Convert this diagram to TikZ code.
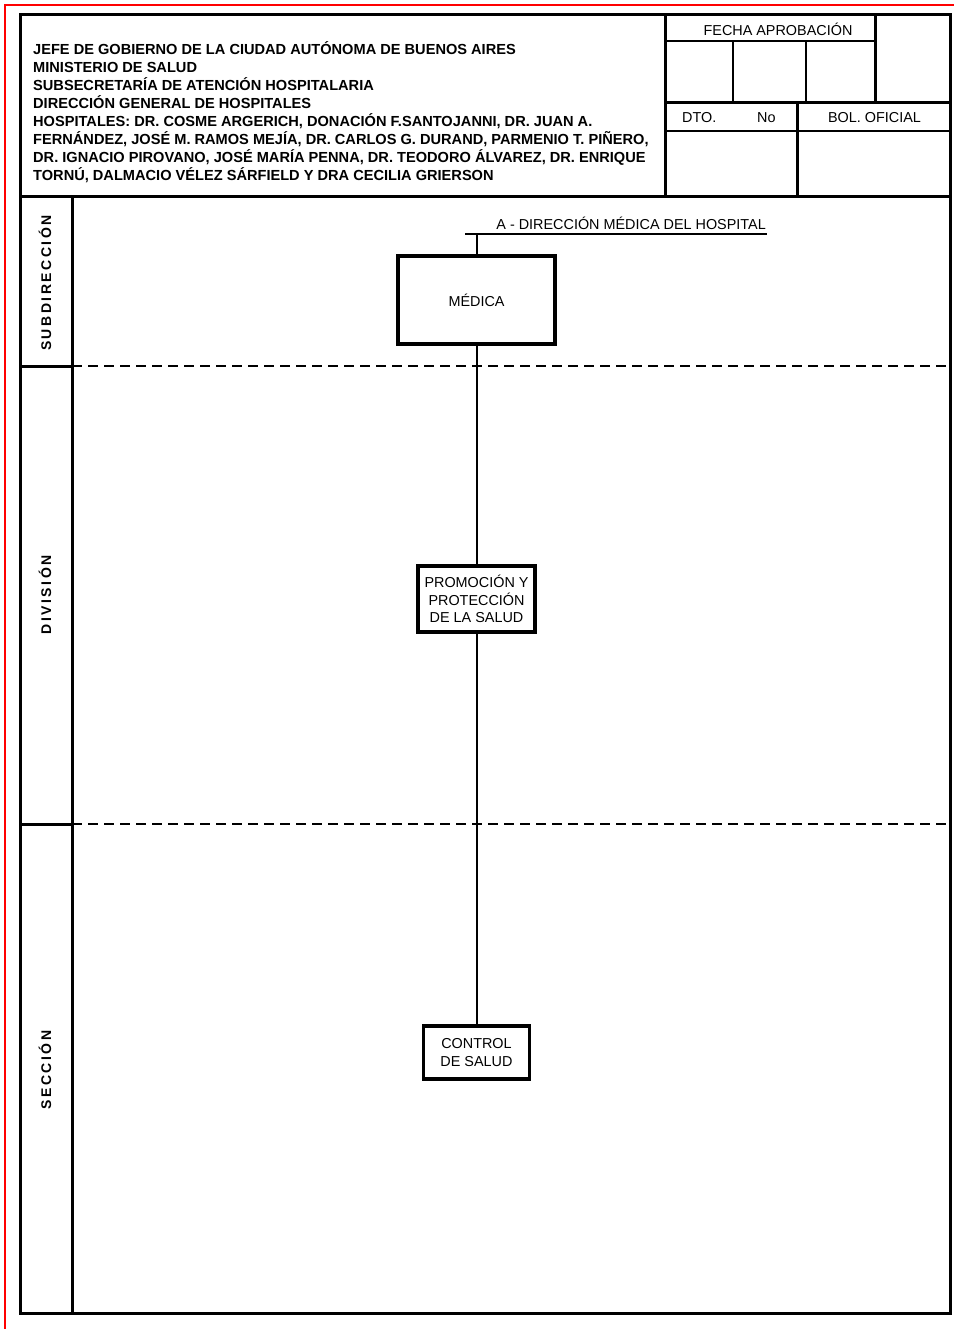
\documentclass[tikz,border=0pt]{standalone}
\usepackage{fontspec}
\setmainfont{Liberation Sans}
\usepackage{tikz}
\tikzset{
	marco/.style={line width=3pt},
	linea/.style={line width=2.2pt},
	corte/.style={line width=1.8pt, dash pattern=on 10pt off 6pt},
	conector/.style={line width=2pt},
	unidad/.style={draw, line width=3.2pt, inner sep=0pt, align=center, font=\fontsize{14.4}{17.2}\selectfont},
	nivel/.style={rotate=90, inner sep=0pt, font=\bfseries\fontsize{14}{14}\selectfont\addfontfeature{LetterSpace=18}},
	cabecera/.style={anchor=base west, inner sep=0pt, font=\bfseries\fontsize{14.6}{14.6}\selectfont},
	celda/.style={inner sep=0pt, font=\fontsize{14.4}{14.4}\selectfont}
}
\begin{document}
\begin{tikzpicture}[x=1pt,y=-1pt]
	\useasboundingbox (0,0) rectangle (954,1329);
	\draw[red, line width=1.4pt] (5,1329) -- (5,5) -- (954,5);
	% marco y cuadro de cabecera
	\draw[marco] (20,15) rectangle (950,1313);
	\draw[marco] (20,197) -- (950,197);
	\draw[marco] (665,15) -- (665,197);
	\draw[linea] (665,41) -- (875,41);
	\draw[linea] (733,41) -- (733,103);
	\draw[linea] (806,41) -- (806,103);
	\draw[marco] (875,15) -- (875,103);
	\draw[marco] (665,103) -- (950,103);
	\draw[linea] (665,131) -- (950,131);
	\draw[marco] (797,103) -- (797,197);
	\draw[marco] (72,197) -- (72,1313);
	\draw[marco] (20,366) -- (72,366);
	\draw[marco] (20,824) -- (72,824);
	\draw[corte] (72,366) -- (950,366);
	\draw[corte] (72,824) -- (950,824);
	\foreach \texto [count=\i] in {{JEFE DE GOBIERNO DE LA CIUDAD AUTÓNOMA DE BUENOS AIRES},
		{MINISTERIO DE SALUD},
		{SUBSECRETARÍA DE ATENCIÓN HOSPITALARIA},
		{DIRECCIÓN GENERAL DE HOSPITALES},
		{HOSPITALES: DR. COSME ARGERICH, DONACIÓN F.SANTOJANNI, DR. JUAN A.},
		{FERNÁNDEZ, JOSÉ M. RAMOS MEJÍA, DR. CARLOS G. DURAND, PARMENIO T. PIÑERO,},
		{DR. IGNACIO PIROVANO, JOSÉ MARÍA PENNA, DR. TEODORO ÁLVAREZ, DR. ENRIQUE},
		{TORNÚ, DALMACIO VÉLEZ SÁRFIELD Y DRA CECILIA GRIERSON}}
		\node (h\i) at (33,{55+(\i-1)*17.86}) [cabecera] {\texto};
	\node (fecha) at (778,36) [celda, anchor=base] {FECHA APROBACIÓN};
	\node (dto) at (682,123) [celda, anchor=base west] {DTO.};
	\node (nro) at (757,123) [celda, anchor=base west] {No};
	\node (bol) at (874.5,123) [celda, anchor=base] {BOL. OFICIAL};
	% niveles
	\node (subdir) at (45,283) [nivel] {SUBDIRECCIÓN};
	\node (div) at (45,595) [nivel] {DIVISIÓN};
	\node (sec) at (45,1070) [nivel] {SECCIÓN};
	% organigrama
	\coordinate (izq) at (465,234);
	\coordinate (der) at (767,234);
	\coordinate (tope) at (476.5,234);
	\node (direccion) at (766,230) [celda, anchor=base east] {A - DIRECCIÓN MÉDICA DEL HOSPITAL};
	\node (medica) at (476.5,300) [unidad, minimum width=157, minimum height=88] {MÉDICA};
		\node (promocion) at (476.5,599) [unidad, minimum width=117, minimum height=66] {PROMOCIÓN Y\\PROTECCIÓN\\DE LA SALUD};
			\node (control) at (476.5,1052.5) [unidad, minimum width=106, minimum height=53] {CONTROL\\DE SALUD};
	\draw[conector] (izq) -- (der)
		  (medica) -- (tope)
		  (medica) -- (promocion)
		  (promocion) -- (control);
\end{tikzpicture}
\end{document}
